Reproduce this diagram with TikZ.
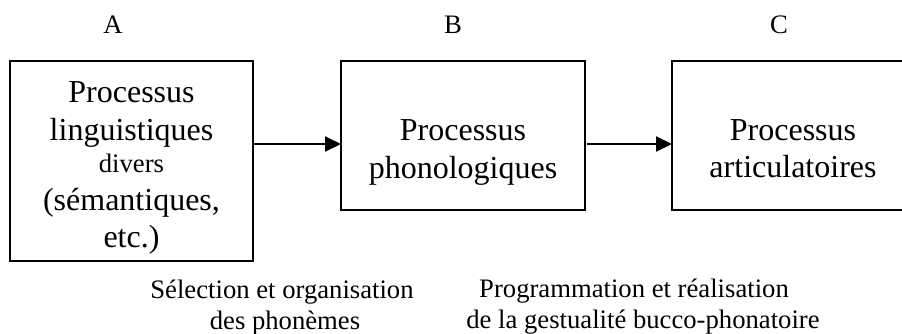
\documentclass[tikz,border=0pt]{standalone}
\usepackage{fontspec}
\setmainfont{Liberation Serif}
\usetikzlibrary{arrows.meta}
\begin{document}
\begin{tikzpicture}[x=1pt,y=-1pt,
  box/.style={draw, line width=2pt, inner sep=0pt, outer sep=0pt},
  big/.style={font=\fontsize{32}{37}\selectfont, inner sep=0pt, anchor=base},
  small/.style={font=\fontsize{26.67}{31}\selectfont, inner sep=0pt, anchor=base},
  arr/.style={line width=2pt, -{Triangle[length=16pt,width=15pt]}}]
\useasboundingbox (0,0) rectangle (902,333);
% boxes
\node[box, minimum width=243pt, minimum height=200pt] (A) at (131.5,161) {};
\node[box, minimum width=244pt, minimum height=149pt] (B) at (463,135.5) {};
\node[box, minimum width=240pt, minimum height=149pt] (C) at (792,135.5) {};
% column labels
\node[small] (la) at (113,33) {A};
\node[small] (lb) at (453,33) {B};
\node[small] (lc) at (779,33) {C};
% text in A
\node[big] (a1) at (131.5,102) {Processus};
\node[big] (a2) at (131.5,140) {linguistiques};
\node[small] (a3) at (131.5,172) {divers};
\node[big] (a4) at (131.5,210) {(sémantiques,};
\node[big] (a5) at (131.5,247) {etc.)};
% text in B
\node[big] (b1) at (463,140) {Processus};
\node[big] (b2) at (463,178) {phonologiques};
% text in C
\node[big] (c1) at (793,140) {Processus};
\node[big] (c2) at (793,177) {articulatoires};
% bottom captions
\node[small] (s1) at (282,298) {Sélection et organisation};
\node[small] (s2) at (285,329) {des phonèmes};
\node[small] (p1) at (634,297) {Programmation et réalisation};
\node[small] (p2) at (643,328) {de la gestualité bucco-phonatoire};
% arrows
\coordinate (ay) at (0,144);
\draw[arr] (A.east |- ay) -- (B.west |- ay);
\draw[arr] ([xshift=2pt]B.east |- ay) -- (C.west |- ay);
\end{tikzpicture}
\end{document}
